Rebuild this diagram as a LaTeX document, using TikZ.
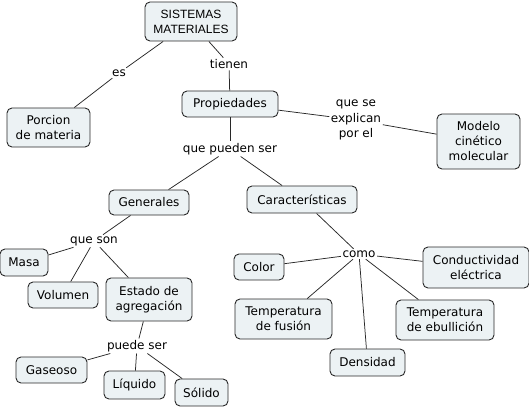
\documentclass[tikz,border=0pt]{standalone}
\usepackage{fontspec}
\setmainfont{DejaVu Sans}
\newfontfamily\arialf{Liberation Sans}
\definecolor{boxfill}{RGB}{236,242,244}
\definecolor{linec}{RGB}{40,40,40}
\begin{document}
\begin{tikzpicture}[x=1pt,y=-1pt,
 box/.style={draw=linec, fill=boxfill, rounded corners=5pt, line width=0.9pt, align=center,
   font=\fontsize{12}{15}\selectfont, inner sep=0pt},
 lbl/.style={inner sep=1.5pt, align=center, font=\fontsize{12}{15.5}\selectfont},
 conn/.style={draw=linec, line width=0.75pt}]
\useasboundingbox (0,0) rectangle (529,409);
% concepts
\node[box, minimum width=92pt, minimum height=39pt, font=\arialf\fontsize{12}{15}\selectfont] (sis) at (191,21.5) {SISTEMAS\\MATERIALES};
\node[box, minimum width=83pt, minimum height=39pt] (por) at (48.5,127.5) {Porcion\\de materia};
\node[box, minimum width=96pt, minimum height=26pt] (pro) at (230,104) {Propiedades};
\node[box, minimum width=83pt, minimum height=55pt] (mod) at (478.5,141.5) {Modelo\\cinético\\molecular};
\node[box, minimum width=80pt, minimum height=25pt] (gen) at (149,202.5) {Generales};
\node[box, minimum width=110pt, minimum height=27pt] (car) at (302,199.5) {Características};
\node[box, minimum width=48pt, minimum height=27pt] (mas) at (24,262.5) {Masa};
\node[box, minimum width=70pt, minimum height=26pt] (vol) at (63,295) {Volumen};
\node[box, minimum width=86pt, minimum height=43pt] (est) at (149,299.5) {Estado de\\agregación};
\node[box, minimum width=71pt, minimum height=26pt] (gas) at (51.5,370) {Gaseoso};
\node[box, minimum width=61pt, minimum height=28pt] (liq) at (134.5,385) {Líquido};
\node[box, minimum width=53pt, minimum height=27pt] (sol) at (201.5,392.5) {Sólido};
\node[box, minimum width=50pt, minimum height=26pt] (col) at (259,267) {Color};
\node[box, minimum width=97pt, minimum height=40pt] (tf) at (283.5,319) {Temperatura\\de fusión};
\node[box, minimum width=75pt, minimum height=27pt] (den) at (367.5,362.5) {Densidad};
\node[box, minimum width=98pt, minimum height=40pt] (te) at (445,320) {Temperatura\\de ebullición};
\node[box, minimum width=106pt, minimum height=41pt] (con) at (476,267.5) {Conductividad\\eléctrica};
% linking phrases
\node[lbl] (es) at (119,73) {es};
\node[lbl] (tie) at (229,64) {tienen};
\node[lbl] (exp) at (356,120) {que se\\explican\\por el};
\node[lbl] (pue) at (230,149) {que pueden ser};
\node[lbl] (qso) at (94,241) {que son};
\node[lbl] (pse) at (137,346) {puede ser};
\node[lbl] (com) at (359,254) {como};
% connectors
\draw[conn] (sis) -- (es);
\draw[conn] (es) -- (por);
\draw[conn] (sis) -- (tie);
\draw[conn] (tie) -- (pro);
\draw[conn] (pro) -- (exp);
\draw[conn] (exp) -- (mod);
\draw[conn] (pro) -- (pue);
\draw[conn] (pue) -- (gen);
\draw[conn] (pue) -- (car);
\draw[conn] (gen) -- (qso);
\draw[conn] (qso) -- (mas);
\draw[conn] (qso) -- (vol);
\draw[conn] (qso) -- (est);
\draw[conn] (est) -- (pse);
\draw[conn] (pse) -- (gas);
\draw[conn] (pse) -- (liq);
\draw[conn] (pse) -- (sol);
\draw[conn] (car) -- (com);
\draw[conn] (com) -- (col);
\draw[conn] (com) -- (con);
\draw[conn] (com) -- (tf);
\draw[conn] (com) -- (den);
\draw[conn] (com) -- (te);
\end{tikzpicture}
\end{document}
